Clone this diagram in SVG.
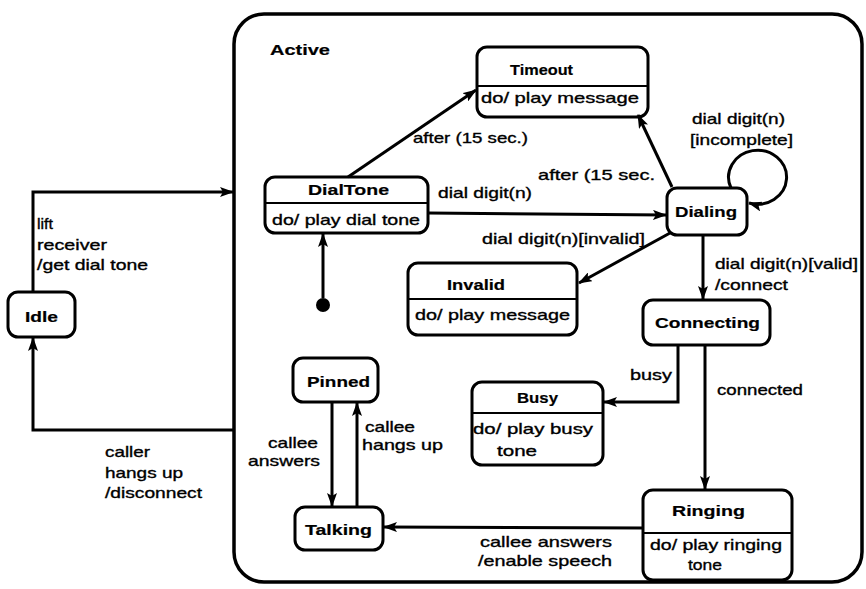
<svg xmlns="http://www.w3.org/2000/svg" width="866" height="589" viewBox="0 0 866 589">
  <style>
    text { font-family: "Liberation Sans", Arial, sans-serif; font-size: 15px; fill: #000; stroke: #000; stroke-width: 0.35; }
    .name { font-weight: bold; stroke-width: 0.2; }
    .box { fill: #fff; stroke: #000; stroke-width: 3; }
    .div { stroke: #000; stroke-width: 2; }
    .edge { fill: none; stroke: #000; stroke-width: 3; marker-end: url(#arr); }
  </style>
  <defs>
    <marker id="arr" viewBox="0 0 14 10" refX="13" refY="5" markerWidth="14" markerHeight="10" markerUnits="userSpaceOnUse" orient="auto">
      <path d="M0,0 L14,5 L0,10 L3,5 z" fill="#000"/>
    </marker>
  </defs>
  <rect width="866" height="589" fill="#fff"/>

  <!-- composite state -->
  <g id="active">
    <rect x="234" y="14" width="628" height="568" rx="30" fill="none" stroke="#000" stroke-width="3.5"/>
    <text class="name" x="270" y="55" textLength="60" lengthAdjust="spacingAndGlyphs">Active</text>
  </g>

  <g id="idle">
    <rect class="box" x="8" y="292" width="67" height="45" rx="10"/>
    <text class="name" x="25" y="322" textLength="33" lengthAdjust="spacingAndGlyphs">Idle</text>
  </g>

  <g id="dialtone">
    <rect class="box" x="265" y="177" width="163" height="56" rx="10"/>
    <line class="div" x1="265" y1="203" x2="428" y2="203"/>
    <text class="name" x="308" y="195" textLength="81" lengthAdjust="spacingAndGlyphs">DialTone</text>
    <text x="272" y="225" textLength="148" lengthAdjust="spacingAndGlyphs">do/ play dial tone</text>
  </g>

  <g id="initial">
    <circle cx="323" cy="305" r="7" fill="#000"/>
  </g>

  <g id="timeout">
    <rect class="box" x="477" y="47" width="171" height="70" rx="10"/>
    <line class="div" x1="477" y1="86" x2="648" y2="86"/>
    <text class="name" x="510" y="75" textLength="63" lengthAdjust="spacingAndGlyphs">Timeout</text>
    <text x="481" y="103" textLength="158" lengthAdjust="spacingAndGlyphs">do/ play message</text>
  </g>

  <g id="dialing">
    <rect class="box" x="667" y="188" width="80" height="47" rx="10"/>
    <text class="name" x="675" y="217" textLength="62" lengthAdjust="spacingAndGlyphs">Dialing</text>
  </g>

  <g id="invalid">
    <rect class="box" x="408" y="263" width="169" height="72" rx="10"/>
    <line class="div" x1="408" y1="299" x2="577" y2="299"/>
    <text class="name" x="447" y="290" textLength="58" lengthAdjust="spacingAndGlyphs">Invalid</text>
    <text x="415" y="320" textLength="155" lengthAdjust="spacingAndGlyphs">do/ play message</text>
  </g>

  <g id="connecting">
    <rect class="box" x="643" y="300" width="127" height="45" rx="10"/>
    <text class="name" x="655" y="328" textLength="105" lengthAdjust="spacingAndGlyphs">Connecting</text>
  </g>

  <g id="busy">
    <rect class="box" x="472" y="382" width="131" height="83" rx="10"/>
    <line class="div" x1="472" y1="413" x2="603" y2="413"/>
    <text class="name" x="517" y="403" textLength="41" lengthAdjust="spacingAndGlyphs">Busy</text>
    <text x="473" y="434" textLength="120" lengthAdjust="spacingAndGlyphs">do/ play busy</text>
    <text x="497" y="456" textLength="40" lengthAdjust="spacingAndGlyphs">tone</text>
  </g>

  <g id="ringing">
    <rect class="box" x="643" y="490" width="149" height="90" rx="10"/>
    <line class="div" x1="643" y1="533" x2="792" y2="533"/>
    <text class="name" x="672" y="516" textLength="73" lengthAdjust="spacingAndGlyphs">Ringing</text>
    <text x="650" y="550" textLength="132" lengthAdjust="spacingAndGlyphs">do/ play ringing</text>
    <text x="688" y="570" textLength="34" lengthAdjust="spacingAndGlyphs">tone</text>
  </g>

  <g id="pinned">
    <rect class="box" x="293" y="358" width="85" height="44" rx="10"/>
    <text class="name" x="307" y="387" textLength="63" lengthAdjust="spacingAndGlyphs">Pinned</text>
  </g>

  <g id="talking">
    <rect class="box" x="295" y="507" width="88" height="43" rx="10"/>
    <text class="name" x="305" y="535" textLength="67" lengthAdjust="spacingAndGlyphs">Talking</text>
  </g>

  <!-- transitions and their labels -->
  <g id="connectors">
    <path class="edge" d="M33,292 V192 H233"/>
    <text x="37" y="229" textLength="16" lengthAdjust="spacingAndGlyphs">lift</text>
    <text x="37" y="250" textLength="70" lengthAdjust="spacingAndGlyphs">receiver</text>
    <text x="37" y="270" textLength="111" lengthAdjust="spacingAndGlyphs">/get dial tone</text>

    <path class="edge" d="M233,430 H33 V338"/>
    <text x="105" y="457" textLength="45" lengthAdjust="spacingAndGlyphs">caller</text>
    <text x="105" y="478" textLength="78" lengthAdjust="spacingAndGlyphs">hangs up</text>
    <text x="105" y="498" textLength="97" lengthAdjust="spacingAndGlyphs">/disconnect</text>

    <path class="edge" d="M323,298 V234"/>

    <path class="edge" d="M348,177 L476,90"/>
    <text x="413" y="143" textLength="115" lengthAdjust="spacingAndGlyphs">after (15 sec.)</text>

    <path class="edge" d="M428,213 L666,215"/>
    <text x="438" y="198" textLength="94" lengthAdjust="spacingAndGlyphs">dial digit(n)</text>

    <path class="edge" d="M672,187 L638,115"/>
    <text x="538" y="180" textLength="117" lengthAdjust="spacingAndGlyphs">after (15 sec.</text>

    <path class="edge" d="M731,188 A29 27 0 1 1 749,203"/>
    <text x="692" y="124" textLength="93" lengthAdjust="spacingAndGlyphs">dial digit(n)</text>
    <text x="690" y="145" textLength="103" lengthAdjust="spacingAndGlyphs">[incomplete]</text>

    <path class="edge" d="M670,233 L579,283"/>
    <text x="482" y="244" textLength="163" lengthAdjust="spacingAndGlyphs">dial digit(n)[invalid]</text>

    <path class="edge" d="M703,235 V299"/>
    <text x="715" y="269" textLength="143" lengthAdjust="spacingAndGlyphs">dial digit(n)[valid]</text>
    <text x="715" y="290" textLength="73" lengthAdjust="spacingAndGlyphs">/connect</text>

    <path class="edge" d="M678,345 V402 H604"/>
    <text x="630" y="380" textLength="42" lengthAdjust="spacingAndGlyphs">busy</text>

    <path class="edge" d="M705,345 V489"/>
    <text x="717" y="395" textLength="86" lengthAdjust="spacingAndGlyphs">connected</text>

    <path class="edge" d="M643,528 L384,527"/>
    <text x="480" y="547" textLength="132" lengthAdjust="spacingAndGlyphs">callee answers</text>
    <text x="478" y="566" textLength="134" lengthAdjust="spacingAndGlyphs">/enable speech</text>

    <path class="edge" d="M332,402 V506"/>
    <text x="268" y="448" textLength="50" lengthAdjust="spacingAndGlyphs">callee</text>
    <text x="248" y="466" textLength="72" lengthAdjust="spacingAndGlyphs">answers</text>

    <path class="edge" d="M357,507 V403"/>
    <text x="365" y="432" textLength="50" lengthAdjust="spacingAndGlyphs">callee</text>
    <text x="362" y="450" textLength="81" lengthAdjust="spacingAndGlyphs">hangs up</text>
  </g>
</svg>
